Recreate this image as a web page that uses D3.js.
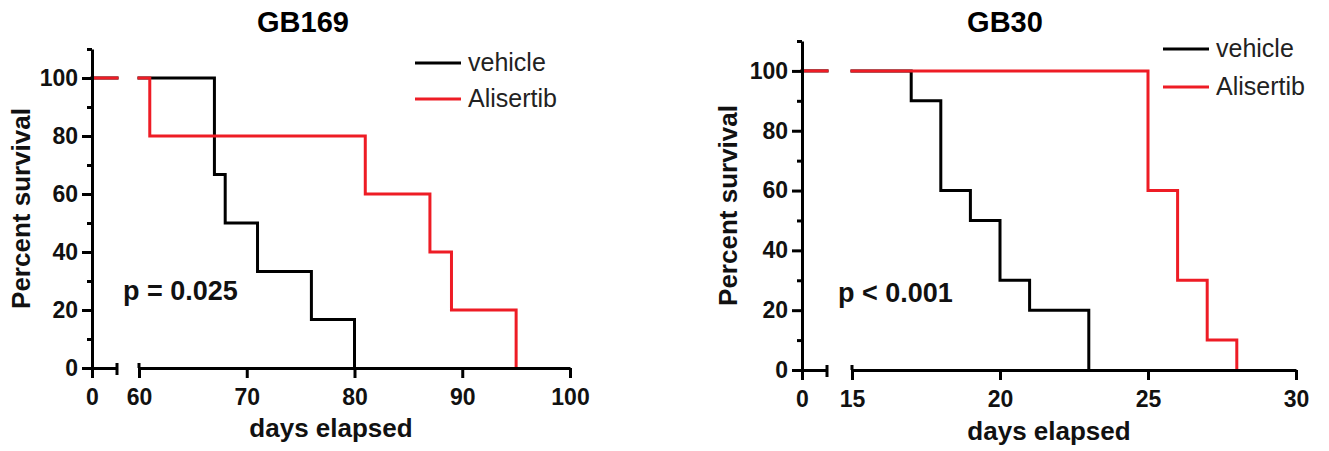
<!DOCTYPE html>
<html>
<head>
<meta charset="utf-8">
<script src="https://cdn.jsdelivr.net/npm/d3@7"></script>
<style>
  html, body { margin: 0; padding: 0; background: #fff; }
  svg { display: block; }
</style>
</head>
<body>
<svg id="chart" width="1329" height="451"></svg>
<script>
// Survival data
const gb169VehicleDays = [67, 68, 71, 76, 80];
const gb169VehicleSurv = [66.7, 50, 33.3, 16.7, 0];
const gb169AlisertibDays = [61, 81, 87, 89, 95];
const gb169AlisertibSurv = [80, 60, 40, 20, 0];

const gb30VehicleDays = [17, 18, 19, 20, 21, 23];
const gb30VehicleSurv = [90, 60, 50, 30, 20, 0];
const gb30AlisertibDays = [25, 26, 27, 28];
const gb30AlisertibSurv = [60, 30, 10, 0];

const gb169XTicks = [60, 70, 80, 90, 100];
const gb30XTicks = [15, 20, 25, 30];
const yMajorTicks = [0, 20, 40, 60, 80, 100];
const yMinorTicks = [10, 30, 50, 70, 90, 110];
const seriesNames = ['vehicle', 'Alisertib'];

const RED = '#ee1c25';
const FONT = 'Liberation Sans, Arial, Helvetica, sans-serif';

const svg = d3.select('#chart');

const panels = [
    {
        title: 'GB169', pText: 'p = 0.025',
        xDomain: [60, 100], xTicks: gb169XTicks,
        vehicle: { days: gb169VehicleDays, surv: gb169VehicleSurv },
        alisertib: { days: gb169AlisertibDays, surv: gb169AlisertibSurv },
        ox: 92, seg1End: 117, seg2Start: 139, seg2End: 570, y0: 368, yTop: 49,
        titleX: 303, titleY: 32, xLabelX: 331, xLabelY: 437, yLabelX: 30,
        pX: 123, pY: 300, legX: 415, legY: 63, legGap: 36
    },
    {
        title: 'GB30', pText: 'p < 0.001',
        xDomain: [15, 30], xTicks: gb30XTicks,
        vehicle: { days: gb30VehicleDays, surv: gb30VehicleSurv },
        alisertib: { days: gb30AlisertibDays, surv: gb30AlisertibSurv },
        ox: 802, seg1End: 827, seg2Start: 852, seg2End: 1296, y0: 370, yTop: 41,
        titleX: 1005, titleY: 32, xLabelX: 1049, xLabelY: 440, yLabelX: 737,
        pX: 838, pY: 302, legX: 1163, legY: 49, legGap: 38
    }
];

function drawPanel(p) {
    const g = svg.append('g');

    const y = d3.scaleLinear().domain([0, 110]).range([p.y0, p.yTop]);
    // broken x axis: a short piece near 0 and the main piece
    const x1 = d3.scaleLinear().domain([0, 1]).range([p.ox, p.seg1End]);
    const x2 = d3.scaleLinear().domain(p.xDomain).range([p.seg2Start, p.seg2End]);

    const line = d3.line()
        .x(d => x2(d[0]))
        .y(d => y(d[1]))
        .curve(d3.curveStepAfter);

    const drawSeries = (s, color) => {
        // flat 100% piece on the short segment
        g.append('line')
            .attr('x1', x1(0)).attr('x2', x1(1))
            .attr('y1', y(100)).attr('y2', y(100))
            .attr('stroke', color).attr('stroke-width', 3)
            .attr('stroke-linecap', 'square');
        const pts = [[p.xDomain[0], 100]].concat(s.days.map((d, i) => [d, s.surv[i]]));
        g.append('path')
            .datum(pts)
            .attr('d', line)
            .attr('fill', 'none')
            .attr('stroke', color)
            .attr('stroke-width', 3)
            .attr('stroke-linecap', 'square');
    };

    drawSeries(p.vehicle, '#000');
    drawSeries(p.alisertib, RED);

    // y axis
    g.append('g')
        .attr('transform', `translate(${p.ox},0)`)
        .call(d3.axisLeft(y).tickValues(yMajorTicks).tickSize(10).tickSizeOuter(0).tickPadding(4));
    g.append('g')
        .attr('transform', `translate(${p.ox},0)`)
        .call(d3.axisLeft(y).tickValues(yMinorTicks).tickSize(5).tickFormat(''))
        .select('.domain').remove();

    // x axis, two pieces
    g.append('g')
        .attr('transform', `translate(0,${p.y0})`)
        .call(d3.axisBottom(x1).tickValues([0]).tickFormat(d3.format('d'))
            .tickSize(10).tickSizeOuter(0).tickPadding(11));
    g.append('g')
        .attr('transform', `translate(0,${p.y0})`)
        .call(d3.axisBottom(x2).tickValues(p.xTicks).tickFormat(d3.format('d'))
            .tickSize(10).tickSizeOuter(0).tickPadding(11));

    // break caps
    [[x1(1), -5, 7], [x2(p.xDomain[0]), -5, 0]].forEach(c => {
        g.append('line')
            .attr('x1', c[0]).attr('x2', c[0])
            .attr('y1', p.y0 + c[1]).attr('y2', p.y0 + c[2])
            .attr('stroke', '#000').attr('stroke-width', 3);
    });

    g.selectAll('.domain, .tick line')
        .attr('stroke', '#000')
        .attr('stroke-width', 3);
    g.selectAll('.tick text')
        .attr('fill', '#111')
        .attr('font-family', FONT)
        .attr('font-weight', 'bold')
        .attr('font-size', 23);

    // titles and labels
    g.append('text')
        .attr('x', p.titleX).attr('y', p.titleY)
        .attr('text-anchor', 'middle')
        .attr('font-family', FONT).attr('font-weight', 'bold').attr('font-size', 29)
        .text(p.title);

    g.append('text')
        .attr('x', p.xLabelX).attr('y', p.xLabelY)
        .attr('text-anchor', 'middle')
        .attr('font-family', FONT).attr('font-weight', 'bold').attr('font-size', 26)
        .attr('fill', '#111')
        .text('days elapsed');

    g.append('text')
        .attr('transform', `translate(${p.yLabelX},${(p.y0 + p.yTop) / 2}) rotate(-90)`)
        .attr('text-anchor', 'middle')
        .attr('font-family', FONT).attr('font-weight', 'bold').attr('font-size', 26)
        .attr('fill', '#111')
        .text('Percent survival');

    g.append('text')
        .attr('x', p.pX).attr('y', p.pY)
        .attr('font-family', FONT).attr('font-weight', 'bold').attr('font-size', 27)
        .attr('fill', '#111')
        .text(p.pText);

    // legend
    const leg = g.append('g').attr('transform', `translate(${p.legX},${p.legY})`);
    seriesNames.forEach((name, i) => {
        const row = leg.append('g').attr('transform', `translate(0,${i * p.legGap})`);
        row.append('line')
            .attr('x1', 0).attr('x2', 46)
            .attr('stroke', i === 0 ? '#000' : RED)
            .attr('stroke-width', 3);
        row.append('text')
            .attr('x', 53).attr('y', 8)
            .attr('font-family', FONT).attr('font-size', 25)
            .attr('fill', '#222')
            .text(name);
    });
}

panels.forEach(drawPanel);
</script>
</body>
</html>
